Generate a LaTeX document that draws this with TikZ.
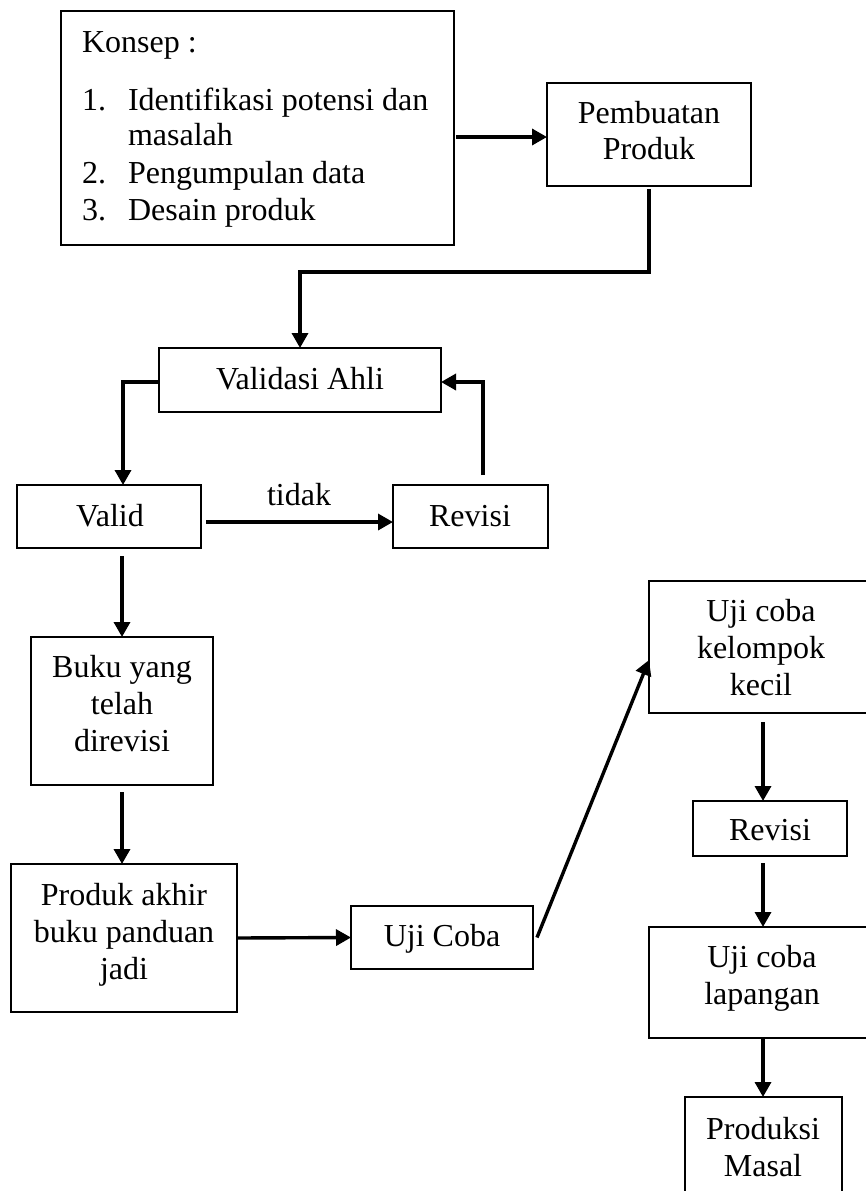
\documentclass[tikz,border=0pt]{standalone}
\usepackage{fontspec}
\setmainfont{Liberation Serif}
\usetikzlibrary{arrows.meta,fit,calc}
\begin{document}
\begin{tikzpicture}[x=1pt,y=-1pt,
  box/.style={draw, line width=1.6pt, inner sep=0pt, outer sep=0pt, rectangle},
  txt/.style={inner sep=0pt, outer sep=0pt, font=\fontsize{32}{37}\selectfont},
  arr/.style={line width=3.4pt, -{Triangle[length=15pt,width=16pt]}},
  ln/.style={line width=3.4pt}]
\useasboundingbox (0,0) rectangle (866,1191);
\clip (0,0) rectangle (866,1191);
% boxes
\node[box, fit={(61,11) (454,245)}] (konsep) {};
\node[box, fit={(547,83) (751,186)}] (pemb) {};
\node[box, fit={(159,348) (441,412)}] (vah) {};
\node[box, fit={(17,485) (201,548)}] (valid) {};
\node[box, fit={(393,485) (548,548)}] (rev1) {};
\node[box, fit={(31,637) (213,785)}] (buku) {};
\node[box, fit={(11,864) (237,1012)}] (prod) {};
\node[box, fit={(351,906) (533,969)}] (uji) {};
\node[box, fit={(649,581) (875,713)}] (kel) {};
\node[box, fit={(693,801) (847,856)}] (rev2) {};
\node[box, fit={(649,927) (875,1038)}] (lap) {};
\node[box, fit={(685,1097) (842,1215)}] (masal) {};
% texts
\node[txt, anchor=base west] (k0) at (82,52) {Konsep :};
\node[txt, anchor=base west] (k1n) at (82,110) {1.};
\node[txt, anchor=base west] (k1a) at (128,110) {Identifikasi potensi dan};
\node[txt, anchor=base west] (k1b) at (128,145) {masalah};
\node[txt, anchor=base west] (k2n) at (82,183) {2.};
\node[txt, anchor=base west] (k2a) at (128,183) {Pengumpulan data};
\node[txt, anchor=base west] (k3n) at (82,220) {3.};
\node[txt, anchor=base west] (k3a) at (128,220) {Desain produk};
\node[txt, anchor=base] (p1) at (649,123) {Pembuatan};
\node[txt, anchor=base] (p2) at (649,159) {Produk};
\node[txt, anchor=base] (va) at (300,389) {Validasi Ahli};
\node[txt, anchor=base] (vl) at (110,526) {Valid};
\node[txt, anchor=base] (rv1) at (470,526) {Revisi};
\node[txt, anchor=base] (tidak) at (299,505) {tidak};
\node[txt, anchor=base] (b1) at (122,677) {Buku yang};
\node[txt, anchor=base] (b2) at (122,714) {telah};
\node[txt, anchor=base] (b3) at (122,751) {direvisi};
\node[txt, anchor=base] (pa1) at (124,905) {Produk akhir};
\node[txt, anchor=base] (pa2) at (124,942) {buku panduan};
\node[txt, anchor=base] (pa3) at (124,979) {jadi};
\node[txt, anchor=base] (uc) at (442,946) {Uji Coba};
\node[txt, anchor=base] (kl1) at (761,621) {Uji coba};
\node[txt, anchor=base] (kl2) at (761,658) {kelompok};
\node[txt, anchor=base] (kl3) at (761,695) {kecil};
\node[txt, anchor=base] (rv2) at (770,840) {Revisi};
\node[txt, anchor=base] (lp1) at (762,967) {Uji coba};
\node[txt, anchor=base] (lp2) at (762,1004) {lapangan};
\node[txt, anchor=base] (m1) at (763,1139) {Produksi};
\node[txt, anchor=base] (m2) at (763,1176) {Masal};
% helper coordinates
\coordinate (c1) at (649,272);
\coordinate (c2) at (123,0);
\coordinate (c3) at (483,475);
\coordinate (c4) at (0,660);
\coordinate (c5) at (763,0);
% connectors
\draw[arr] ([xshift=2pt]konsep.east |- 0,137) -- (pemb.west |- 0,137);
\draw[arr] ([yshift=-3pt]pemb.south) -- (c1) -| (vah.north);
\draw[arr] (vah.west |- 0,382) -| (c2 |- valid.north);
\draw[arr] ([xshift=5pt]valid.east |- 0,522) -- (rev1.west |- 0,522);
\draw[arr] (c3) |- (vah.east |- 0,382);
\draw[arr] ([yshift=-8pt]valid.south -| buku.north) -- (buku.north);
\draw[arr] ([yshift=-7pt]buku.south) -- (buku.south |- prod.north);
\draw[arr] (prod.east) -- (uji.west);
\draw[arr] ([xshift=4pt]uji.east) -- (kel.west |- c4);
\draw[arr] ([yshift=-9pt]kel.south -| c5) -- (c5 |- rev2.north);
\draw[arr] ([yshift=-7pt]rev2.south -| c5) -- (c5 |- lap.north);
\draw[arr] (lap.south -| c5) -- (c5 |- masal.north);
\end{tikzpicture}
\end{document}
